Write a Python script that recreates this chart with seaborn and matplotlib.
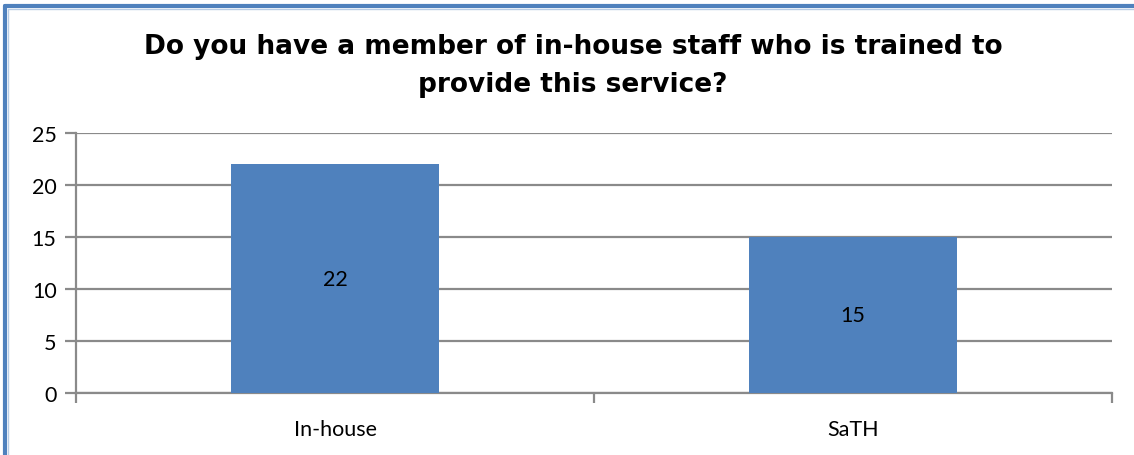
import matplotlib
matplotlib.use("Agg")
import matplotlib.pyplot as plt
from matplotlib.lines import Line2D
import seaborn as sns
import pandas as pd

categories = ["In-house", "SaTH"]
counts = [22, 15]
y_ticks = [0, 5, 10, 15, 20, 25]
title = "Do you have a member of in-house staff who is trained to\nprovide this service?"

bar_color = "#4F81BD"
grid_color = "#8A8A8A"

sns.set_theme(style="white")
plt.rcParams["font.family"] = ["Lato", "DejaVu Sans"]

df = pd.DataFrame({"category": categories, "count": counts})

fig = plt.figure(figsize=(11.34, 4.56), dpi=100)
ax = fig.add_axes([76 / 1134, 62 / 456, (1112 - 76) / 1134, (394 - 134) / 456])

sns.barplot(data=df, x="category", y="count", color=bar_color, saturation=1,
            width=0.4, linewidth=0, ax=ax, zorder=3)

ax.set_ylim(0, 25)
ax.set_xlim(-0.5, 1.5)
ax.set_yticks(y_ticks)
ax.yaxis.grid(True, color=grid_color, linewidth=1.6)
ax.set_axisbelow(True)
ax.set_xlabel("")
ax.set_ylabel("")

for side in ["top", "right"]:
    ax.spines[side].set_visible(False)
for side in ["left", "bottom"]:
    ax.spines[side].set_color(grid_color)
    ax.spines[side].set_linewidth(1.6)

# category boundary ticks on the x axis, outward ticks on the y axis
ax.set_xticks([-0.5, 0.5, 1.5], minor=True)
ax.tick_params(axis="x", which="minor", bottom=True, length=7, width=1.6,
               color=grid_color, direction="out")
ax.tick_params(axis="x", which="major", bottom=False, labelsize=15.5, pad=13,
               labelcolor="black")
ax.tick_params(axis="y", left=True, length=8, width=1.6, color=grid_color,
               direction="out", labelsize=15.5, pad=6, labelcolor="black")

for patch, value in zip(ax.patches, counts):
    cx = patch.get_x() + patch.get_width() / 2
    ax.text(cx, value / 2, f"{value}", ha="center", va="center",
            fontsize=15.5, color="black", zorder=4)

fig.text(573 / 1134, 1 - 66 / 456, title, ha="center", va="center",
         fontsize=19, fontweight="bold", family="DejaVu Sans",
         linespacing=1.6, color="black")

# frame lines along the top and left edges of the chart area
edge = "#4F81BD"
fig.add_artist(Line2D([5 / 1134, 1], [1 - 7 / 456, 1 - 7 / 456],
                      transform=fig.transFigure, color=edge, linewidth=3))
fig.add_artist(Line2D([5 / 1134, 5 / 1134], [0, 1 - 7 / 456],
                      transform=fig.transFigure, color=edge, linewidth=3))
fig.add_artist(Line2D([7.5 / 1134, 1], [1 - 9.5 / 456, 1 - 9.5 / 456],
                      transform=fig.transFigure, color="#B9CDE5", linewidth=1))
fig.add_artist(Line2D([7.5 / 1134, 7.5 / 1134], [0, 1 - 9.5 / 456],
                      transform=fig.transFigure, color="#B9CDE5", linewidth=1))

fig.savefig("out.png", dpi=100)
